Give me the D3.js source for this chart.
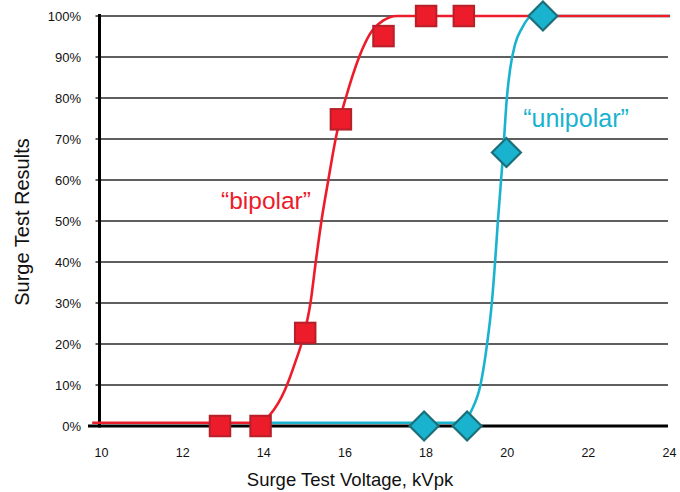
<!DOCTYPE html>
<html>
<head>
<meta charset="utf-8">
<script src="https://cdn.jsdelivr.net/npm/d3@7"></script>
<style>
  html, body { margin: 0; padding: 0; background: #ffffff; }
  svg { display: block; font-family: "Liberation Sans", Arial, Helvetica, sans-serif; }
</style>
</head>
<body>
<svg id="chart" width="680" height="492"></svg>
<script>
// Axis ticks
const xTicks = [10, 12, 14, 16, 18, 20, 22, 24];
const yTicks = [0, 10, 20, 30, 40, 50, 60, 70, 80, 90, 100];

// Measured surge test results (kVpk, % passing)
const bipolarVoltage = [12.97, 13.97, 15.07, 15.95, 17.0, 18.05, 18.98];
const bipolarResult  = [0, 0, 22.7, 74.8, 95.1, 100, 100];
const unipolarVoltage = [18.0, 19.06, 20.03, 20.93];
const unipolarResult  = [0, 0, 66.7, 100];

// Fitted curves through the measurements
const bipolarFitVoltage = [9.82, 14.0, 14.2, 14.57, 14.82, 15.05, 15.2, 15.33, 15.47, 15.64, 15.82, 15.93, 16.07, 16.4, 16.66, 16.98, 17.33, 24.06];
const bipolarFitResult  = [0.8, 0.8, 2.7, 8.8, 15.4, 22.7, 30, 40, 50, 60, 70, 75, 80, 90, 95.5, 98.8, 100, 100];
const unipolarFitVoltage = [14.0, 19.0, 19.15, 19.4, 19.55, 19.67, 19.75, 19.82, 19.95, 20.04, 20.12, 20.24, 20.41, 20.66, 24.06];
const unipolarFitResult  = [0.8, 0.8, 3.4, 10.5, 19.8, 30, 40, 50, 66.7, 80, 87, 93, 97, 100, 100];

const red = "#ec1c2b", redDark = "#b5202a";
const cyan = "#19b3cf", cyanDark = "#1a6f78";

const svg = d3.select("#chart");
const x = d3.scaleLinear().domain([10, 24]).range([99.5, 667.5]);
const y = d3.scaleLinear().domain([0, 100]).range([426, 16]);

// Horizontal grid lines with short ticks left of the axis
svg.append("g").selectAll("line")
  .data(yTicks.filter(d => d > 0))
  .join("line")
  .attr("x1", x(10) - 4).attr("x2", 668)
  .attr("y1", d => y(d)).attr("y2", d => y(d))
  .attr("stroke", "#2a2a2a").attr("stroke-width", 1.3);

// Y tick labels
svg.append("g").selectAll("text")
  .data(yTicks)
  .join("text")
  .attr("x", 81).attr("y", d => y(d))
  .attr("dy", "0.36em")
  .attr("text-anchor", "end")
  .attr("font-size", 13).attr("fill", "#111")
  .text(d => d + "%");

// X tick labels
svg.append("g").selectAll("text")
  .data(xTicks)
  .join("text")
  .attr("x", d => x(d) + 2).attr("y", 457)
  .attr("text-anchor", "middle")
  .attr("font-size", 12.5).attr("fill", "#111")
  .text(d => d);

// Axis lines
svg.append("line")
  .attr("x1", 88).attr("x2", 668).attr("y1", y(0)).attr("y2", y(0))
  .attr("stroke", "#000").attr("stroke-width", 3);
svg.append("line")
  .attr("x1", x(10)).attr("x2", x(10)).attr("y1", y(100) - 2).attr("y2", y(0) + 1.5)
  .attr("stroke", "#000").attr("stroke-width", 3);

// Axis titles
svg.append("text")
  .attr("x", 350).attr("y", 486)
  .attr("text-anchor", "middle").attr("font-size", 18.5).attr("fill", "#111")
  .text("Surge Test Voltage, kVpk");
svg.append("text")
  .attr("transform", "translate(29," + 222 + ") rotate(-90)")
  .attr("text-anchor", "middle").attr("font-size", 20).attr("fill", "#111")
  .text("Surge Test Results");

// Fitted curves
const line = d3.line()
  .x(d => x(d[0])).y(d => y(d[1]))
  .curve(d3.curveMonotoneX);

svg.append("path")
  .datum(d3.zip(unipolarFitVoltage, unipolarFitResult))
  .attr("d", line)
  .attr("fill", "none").attr("stroke", cyan).attr("stroke-width", 2.6);
svg.append("path")
  .datum(d3.zip(bipolarFitVoltage, bipolarFitResult))
  .attr("d", line)
  .attr("fill", "none").attr("stroke", red).attr("stroke-width", 2.6);

// Series labels
svg.append("text")
  .attr("x", 266).attr("y", 209)
  .attr("text-anchor", "middle").attr("font-size", 24.5).attr("fill", red)
  .text("\u201cbipolar\u201d");
svg.append("text")
  .attr("x", 576).attr("y", 127)
  .attr("text-anchor", "middle").attr("font-size", 25).attr("fill", cyan)
  .text("\u201cunipolar\u201d");

// Markers
const sq = 20.5;
svg.append("g").selectAll("rect")
  .data(d3.zip(bipolarVoltage, bipolarResult))
  .join("rect")
  .attr("x", d => x(d[0]) - sq / 2).attr("y", d => y(d[1]) - sq / 2)
  .attr("width", sq).attr("height", sq)
  .attr("fill", red).attr("stroke", redDark).attr("stroke-width", 2);

const dm = 14.5;
svg.append("g").selectAll("path")
  .data(d3.zip(unipolarVoltage, unipolarResult))
  .join("path")
  .attr("d", d => {
    const cx = x(d[0]), cy = y(d[1]);
    return `M${cx},${cy - dm}L${cx + dm},${cy}L${cx},${cy + dm}L${cx - dm},${cy}Z`;
  })
  .attr("fill", cyan).attr("stroke", cyanDark).attr("stroke-width", 2.2);
</script>
</body>
</html>
